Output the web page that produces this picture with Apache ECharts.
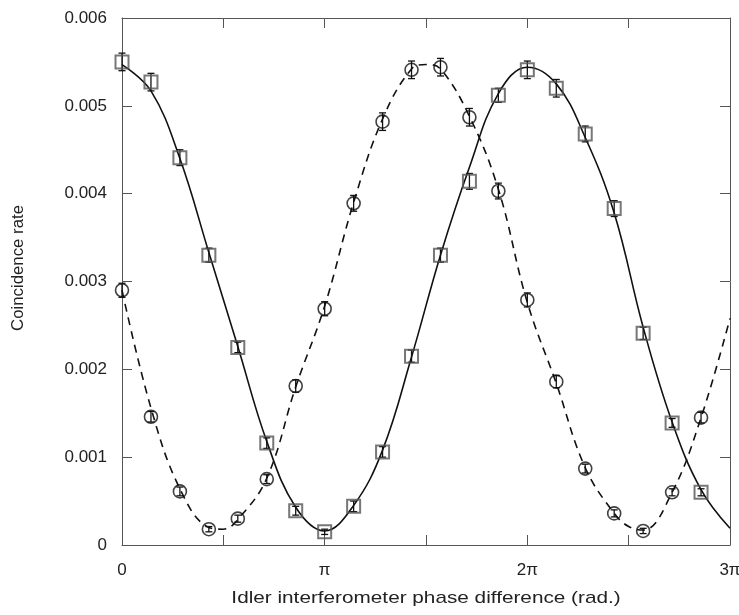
<!DOCTYPE html>
<html>
<head>
<meta charset="utf-8">
<script src="https://cdn.jsdelivr.net/npm/echarts@6/dist/echarts.min.js"></script>
<style>
  html, body { margin: 0; padding: 0; background: #fff; overflow: hidden; }
  #chart { width: 739px; height: 615px; }
</style>
</head>
<body>
<div id="chart"></div>
<script>
// Phase positions in units of pi
const xPhase = [0, 0.1429, 0.2857, 0.4286, 0.5714, 0.7143, 0.8571, 1, 1.1429, 1.2857, 1.4286,
                1.5714, 1.7143, 1.8571, 2, 2.1429, 2.2857, 2.4286, 2.5714, 2.7143, 2.8571];
// Measured coincidence rates (squares, gray)
const squareRate = [0.00550, 0.00527, 0.00441, 0.00330, 0.00225, 0.00116, 0.00039, 0.00015, 0.00044, 0.00106, 0.00215,
                    0.00330, 0.00414, 0.00512, 0.00541, 0.00520, 0.00468, 0.00383, 0.00241, 0.00139, 0.00060];
const squareErr = [0.00010, 0.00010, 0.00009, 0.00008, 0.00006, 0.00006, 0.00005, 0.00003, 0.00006, 0.00006, 0.00007,
                   0.00008, 0.00009, 0.00008, 0.00010, 0.00010, 0.00009, 0.00009, 0.00007, 0.00005, 0.00004];
// Measured coincidence rates (circles, black)
const circleRate = [0.00290, 0.00146, 0.00061, 0.00018, 0.00030, 0.00075, 0.00181, 0.00269, 0.00389, 0.00482, 0.00541,
                    0.00544, 0.00487, 0.00403, 0.00279, 0.00186, 0.00087, 0.00036, 0.00016, 0.00060, 0.00145];
const circleErr = [0.00008, 0.00006, 0.00005, 0.00003, 0.00004, 0.00005, 0.00007, 0.00008, 0.00009, 0.00010, 0.00010,
                   0.00010, 0.00010, 0.00009, 0.00008, 0.00007, 0.00005, 0.00004, 0.00003, 0.00004, 0.00006];
// Fit curves
const solidPhase = [0, 0.1429, 0.2857, 0.4286, 0.5714, 0.7143, 0.8571, 1, 1.1429, 1.2857, 1.4286,
                    1.5714, 1.7143, 1.8571, 2, 2.1429, 2.2857, 2.4286, 2.5714, 2.7143, 2.8571, 3];
const solidFit = [0.00547, 0.00517, 0.00440, 0.00333, 0.00226, 0.00118, 0.00043, 0.00016, 0.00045, 0.00108, 0.00214,
                  0.00330, 0.00430, 0.00514, 0.00544, 0.00525, 0.00464, 0.00378, 0.00248, 0.00140, 0.00063, 0.00019];
const dashedPhase = [0, 0.1429, 0.2857, 0.4286, 0.5, 0.5714, 0.7143, 0.8571, 1, 1.1429, 1.2857, 1.4286, 1.5,
                     1.5714, 1.7143, 1.8571, 2, 2.1429, 2.2857, 2.4286, 2.5, 2.5714, 2.7143, 2.8571, 3];
const dashedFit = [0.00290, 0.00156, 0.00064, 0.00020, 0.00018, 0.00029, 0.00076, 0.00180, 0.00272, 0.00390, 0.00485,
                   0.00542, 0.00547, 0.00542, 0.00488, 0.00405, 0.00276, 0.00184, 0.00088, 0.00036, 0.00021, 0.00017,
                   0.00060, 0.00145, 0.00258];
const xTickLabels = {0: '0', 1: 'π', 2: '2π', 3: '3π'};
const xTitle = 'Idler interferometer phase difference (rad.)';
const yTitle = 'Coincidence rate';

const FONT = "'Liberation Sans', Arial, sans-serif";
const zip = (xs, ys) => xs.map((x, i) => [x, ys[i]]);
const zip3 = (xs, ys, es) => xs.map((x, i) => [x, ys[i], es[i]]);

function errRender(params, api) {
  const x = api.value(0), y = api.value(1), e = api.value(2);
  const lo = api.coord([x, y - e]);
  const hi = api.coord([x, y + e]);
  const w = 3.5;
  const style = {stroke: '#111', lineWidth: 1.3, fill: null};
  return {
    type: 'group',
    children: [
      {type: 'line', shape: {x1: lo[0], y1: lo[1], x2: hi[0], y2: hi[1]}, style},
      {type: 'line', shape: {x1: lo[0] - w, y1: lo[1], x2: lo[0] + w, y2: lo[1]}, style},
      {type: 'line', shape: {x1: hi[0] - w, y1: hi[1], x2: hi[0] + w, y2: hi[1]}, style}
    ]
  };
}

const frameColor = '#555';
const chart = echarts.init(document.getElementById('chart'));
chart.setOption({
  animation: false,
  backgroundColor: '#fff',
  grid: {left: 122, right: 9, top: 18, bottom: 70, containLabel: false, outerBoundsMode: 'none'},
  graphic: [{
    type: 'text', x: 426, y: 598, scaleX: 1.22, scaleY: 1,
    style: {text: xTitle, fontFamily: FONT, fontSize: 17, fill: '#222', align: 'center', verticalAlign: 'middle'}
  }, {
    type: 'text', x: 18.5, y: 268, rotation: Math.PI / 2,
    style: {text: yTitle, fontFamily: FONT, fontSize: 16.8, fill: '#222', align: 'center', verticalAlign: 'middle'}
  }],
  xAxis: [{
    type: 'value', min: 0, max: 3, interval: 0.5, position: 'bottom',
    axisLine: {show: true, onZero: false, lineStyle: {color: frameColor, width: 1}},
    axisTick: {show: true, inside: true, length: 10, lineStyle: {color: frameColor}},
    axisLabel: {margin: 17, fontFamily: FONT, fontSize: 17, color: '#222',
      formatter: v => Number.isInteger(v) && xTickLabels[v] !== undefined ? xTickLabels[v] : ''},
    splitLine: {show: false}
  }, {
    type: 'value', min: 0, max: 3, interval: 0.5, position: 'top',
    axisLine: {show: true, onZero: false, lineStyle: {color: frameColor, width: 1}},
    axisTick: {show: true, inside: true, length: 10, lineStyle: {color: frameColor}},
    axisLabel: {show: false}, splitLine: {show: false}
  }],
  yAxis: [{
    type: 'value', min: 0, max: 0.006, interval: 0.001, position: 'left',
    axisLine: {show: true, onZero: false, lineStyle: {color: frameColor, width: 1}},
    axisTick: {show: true, inside: true, length: 10, lineStyle: {color: frameColor}},
    axisLabel: {margin: 15, fontFamily: FONT, fontSize: 17, color: '#222',
      formatter: v => v === 0 ? '0' : v.toFixed(3)},
    splitLine: {show: false}
  }, {
    type: 'value', min: 0, max: 0.006, interval: 0.001, position: 'right',
    axisLine: {show: true, onZero: false, lineStyle: {color: frameColor, width: 1}},
    axisTick: {show: true, inside: true, length: 10, lineStyle: {color: frameColor}},
    axisLabel: {show: false}, splitLine: {show: false}
  }],
  series: [
    {type: 'line', data: zip(solidPhase, solidFit), smooth: 0.4, showSymbol: false, symbol: 'none',
     lineStyle: {color: '#111', width: 1.6}, z: 2},
    {type: 'line', data: zip(dashedPhase, dashedFit), smooth: 0.4, showSymbol: false, symbol: 'none',
     lineStyle: {color: '#111', width: 1.6, type: [8, 6]}, z: 2},
    {type: 'custom', renderItem: errRender, data: zip3(xPhase, squareRate, squareErr), z: 3},
    {type: 'custom', renderItem: errRender, data: zip3(xPhase, circleRate, circleErr), z: 3},
    {type: 'scatter', data: zip(xPhase, squareRate), symbol: 'rect', symbolSize: 13,
     itemStyle: {color: 'rgba(0,0,0,0)', borderColor: '#555', borderWidth: 2}, z: 4},
    {type: 'scatter', data: zip(xPhase, circleRate), symbol: 'circle', symbolSize: 13,
     itemStyle: {color: 'rgba(0,0,0,0)', borderColor: '#111', borderWidth: 1.6}, z: 4}
  ]
});
</script>
</body>
</html>
